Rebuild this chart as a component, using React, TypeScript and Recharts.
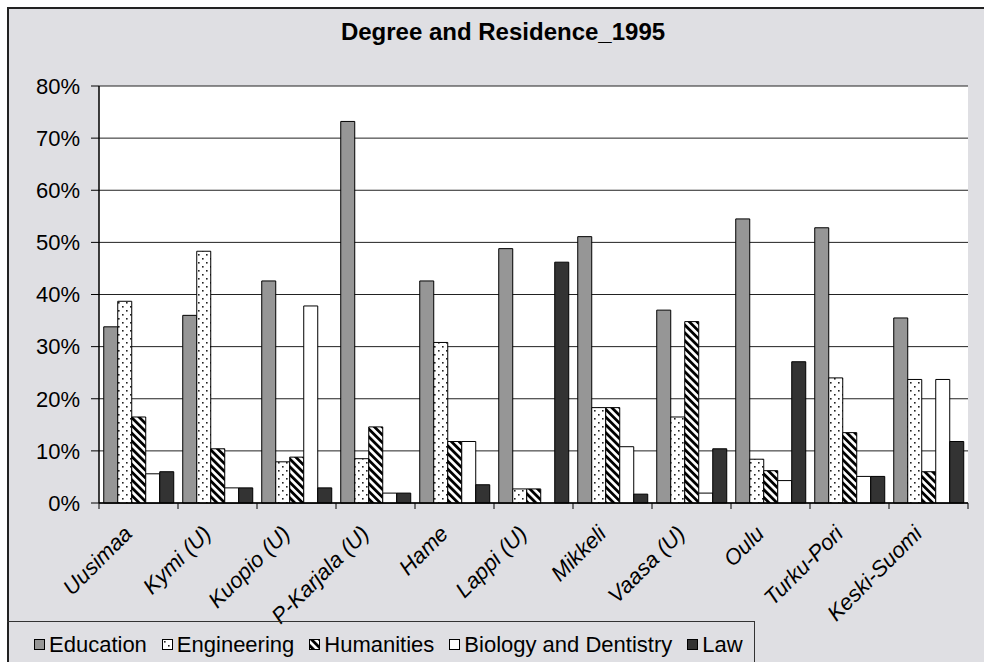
import React from 'react';
import { BarChart, Bar, XAxis, YAxis, CartesianGrid } from 'recharts';

const categories = ['Uusimaa', 'Kymi (U)', 'Kuopio (U)', 'P-Karjala (U)', 'Hame', 'Lappi (U)', 'Mikkeli', 'Vaasa (U)', 'Oulu', 'Turku-Pori', 'Keski-Suomi'];
const education = [33.8, 36.0, 42.6, 73.2, 42.6, 48.8, 51.1, 37.0, 54.5, 52.8, 35.5];
const engineering = [38.7, 48.3, 7.9, 8.5, 30.8, 2.7, 18.3, 16.5, 8.4, 24.0, 23.7];
const humanities = [16.5, 10.4, 8.8, 14.6, 11.8, 2.7, 18.3, 34.8, 6.2, 13.5, 6.0];
const biology = [5.6, 2.9, 37.8, 1.9, 11.8, 0, 10.8, 1.9, 4.3, 5.1, 23.7];
const law = [6.0, 2.9, 2.9, 1.9, 3.5, 46.2, 1.7, 10.4, 27.1, 5.1, 11.8];
const yTicks = [0, 10, 20, 30, 40, 50, 60, 70, 80];

const seriesNames = ['Education', 'Engineering', 'Humanities', 'Biology and Dentistry', 'Law'];
const seriesKeys = ['education', 'engineering', 'humanities', 'biology', 'law'];
const seriesFills = ['#969696', 'url(#dotsPat)', 'url(#stripePat)', '#ffffff', '#333333'];

const data = categories.map((c, i) => ({
  name: c,
  education: education[i],
  engineering: engineering[i],
  humanities: humanities[i],
  biology: biology[i],
  law: law[i],
}));

const FONT = '"Liberation Sans", Arial, sans-serif';
const W = 984;
const H = 662;
const MARGIN = { top: 86, right: 16, bottom: 59, left: 0 };
const Y_AXIS_W = 99;
const X_AXIS_H = 100;
const PLOT_W = W - MARGIN.left - MARGIN.right - Y_AXIS_W;
const BAND = PLOT_W / categories.length;

const XTick = (props: any) => {
  const { x, y, payload, index } = props;
  const left = x - BAND / 2;
  const right = x + BAND / 2;
  const tx = x - 5;
  const ty = y + 32;
  return (
    <g>
      <line x1={left} y1={y} x2={left} y2={y + 6} stroke="#000" strokeWidth={1} />
      {index === categories.length - 1 && (
        <line x1={right} y1={y} x2={right} y2={y + 6} stroke="#000" strokeWidth={1} />
      )}
      <text
        x={tx}
        y={ty}
        transform={`rotate(-45 ${tx} ${ty})`}
        textAnchor="end"
        fontFamily={FONT}
        fontSize={22}
        fontStyle="italic"
        fill="#000"
      >
        {payload.value}
      </text>
    </g>
  );
};

const Patterns = () => (
  <svg width={0} height={0} style={{ position: 'absolute' }}>
    <defs>
      <pattern id="dotsPat" patternUnits="userSpaceOnUse" width={8} height={8}>
        <rect x={0} y={0} width={8} height={8} fill="#fff" />
        <rect x={2} y={2} width={1.6} height={1.6} fill="#222" />
        <rect x={6} y={6} width={1.6} height={1.6} fill="#222" />
      </pattern>
      <pattern id="stripePat" patternUnits="userSpaceOnUse" width={5.5} height={5.5} patternTransform="rotate(-45)">
        <rect x={0} y={0} width={5.5} height={5.5} fill="#fff" />
        <rect x={0} y={0} width={2.8} height={5.5} fill="#000" />
      </pattern>
    </defs>
  </svg>
);

export default function App() {
  return (
    <div style={{ position: 'absolute', left: 0, top: 0, width: W, height: H, background: '#fff', overflow: 'hidden' }}>
      <Patterns />
      <div
        style={{
          position: 'absolute',
          left: 7,
          top: 7,
          width: 1000,
          height: 700,
          background: '#dfdfe3',
          borderLeft: '2px solid #222',
          borderTop: '2px solid #222',
        }}
      />
      <div
        style={{
          position: 'absolute',
          left: 0,
          width: 1006,
          top: 19,
          textAlign: 'center',
          fontFamily: FONT,
          fontWeight: 'bold',
          fontSize: 24,
          lineHeight: '26px',
          color: '#000',
        }}
      >
        Degree and Residence_1995
      </div>
      <div style={{ position: 'absolute', left: 0, top: 0 }}>
        <BarChart width={W} height={H} data={data} margin={MARGIN} barCategoryGap="6%" barGap={0}>
          <CartesianGrid vertical={false} stroke="#222" fill="#ffffff" fillOpacity={1} />
          <XAxis
            dataKey="name"
            height={X_AXIS_H}
            interval={0}
            tickLine={false}
            tickSize={0}
            tickMargin={0}
            axisLine={{ stroke: '#000', strokeWidth: 1.5 }}
            tick={<XTick />}
          />
          <YAxis
            width={Y_AXIS_W}
            domain={[0, 80]}
            ticks={yTicks}
            interval={0}
            tickFormatter={(v: number) => `${v}%`}
            tickSize={8}
            tickMargin={11}
            tickLine={{ stroke: '#000' }}
            axisLine={{ stroke: '#000', strokeWidth: 1.5 }}
            tick={{ fill: '#000', fontSize: 22, fontFamily: FONT }}
          />
          <YAxis
            yAxisId="right"
            orientation="right"
            width={0}
            tick={false}
            tickLine={false}
            axisLine={{ stroke: '#8a8a8a', strokeWidth: 2 }}
          />
          {seriesKeys.map((k, i) => (
            <Bar
              key={k}
              dataKey={k}
              name={seriesNames[i]}
              fill={seriesFills[i]}
              stroke="#000"
              strokeWidth={1}
              isAnimationActive={false}
            />
          ))}
        </BarChart>
      </div>
      <div
        style={{
          position: 'absolute',
          left: 7,
          top: 621,
          width: 748,
          height: 60,
          borderTop: '1.5px solid #333',
          borderRight: '1.5px solid #333',
          display: 'flex',
          flexWrap: 'nowrap',
          whiteSpace: 'nowrap',
          alignItems: 'flex-start',
          paddingTop: 11,
          paddingLeft: 27,
          boxSizing: 'border-box',
          fontFamily: FONT,
          fontSize: 22,
          color: '#000',
        }}
      >
        {seriesNames.map((n, i) => (
          <div key={n} style={{ display: 'flex', flexShrink: 0, alignItems: 'center', marginRight: 15, lineHeight: '23px' }}>
            <svg width={11} height={11} style={{ marginRight: 4, flexShrink: 0 }}>
              <rect x={0.5} y={0.5} width={10} height={10} fill={seriesFills[i]} stroke="#000" strokeWidth={1} />
            </svg>
            <span>{n}</span>
          </div>
        ))}
      </div>
    </div>
  );
}
